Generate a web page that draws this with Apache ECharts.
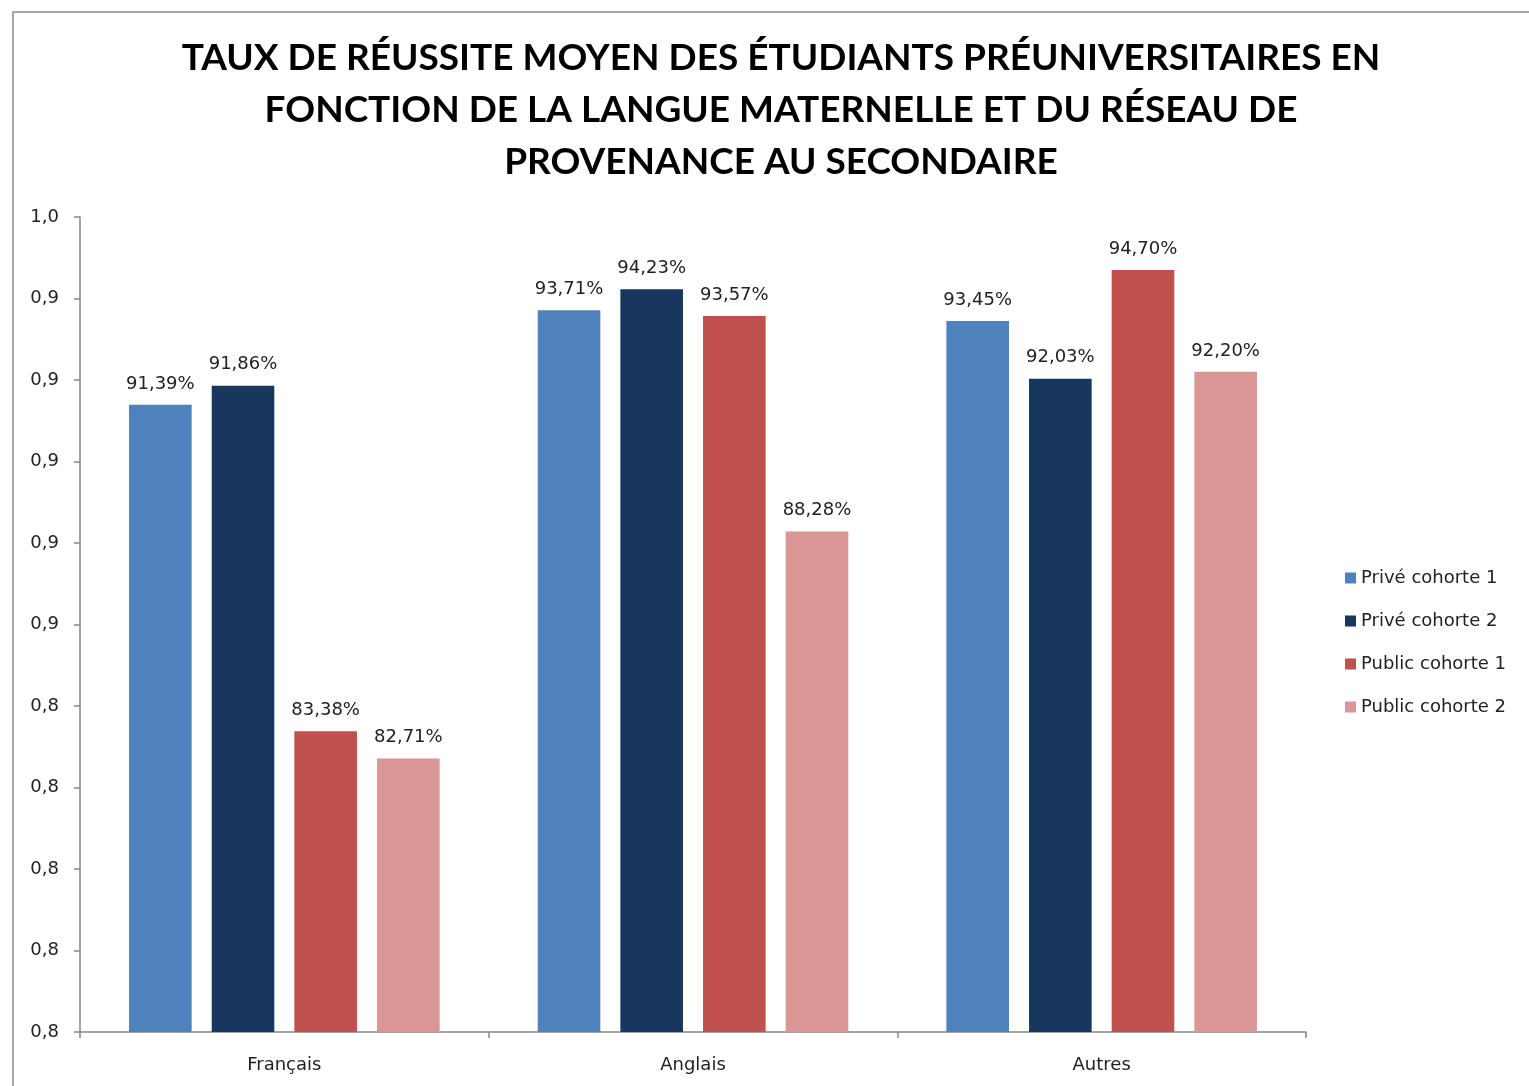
<!DOCTYPE html>
<html>
<head>
<meta charset="utf-8">
<script src="https://cdn.jsdelivr.net/npm/echarts@6/dist/echarts.min.js"></script>
<style>
  html, body { margin: 0; padding: 0; background: #fff; }
  #main { width: 1529px; height: 1086px; }
</style>
</head>
<body>
<div id="main"></div>
<script>
// data
var categories = ['Français', 'Anglais', 'Autres'];
var seriesNames = ['Privé cohorte 1', 'Privé cohorte 2', 'Public cohorte 1', 'Public cohorte 2'];
var priveC1 = [0.9139, 0.9371, 0.9345];
var priveC2 = [0.9186, 0.9423, 0.9203];
var publicC1 = [0.8338, 0.9357, 0.9470];
var publicC2 = [0.8271, 0.8828, 0.9220];
var colors = ['#4F81BD', '#17375E', '#C0504D', '#D99694'];

var titleText = 'TAUX DE RÉUSSITE MOYEN DES ÉTUDIANTS PRÉUNIVERSITAIRES EN\nFONCTION DE LA LANGUE MATERNELLE ET DU RÉSEAU DE\nPROVENANCE AU SECONDAIRE';

var myChart = echarts.init(document.getElementById('main'));

function pct(p) {
    return (p.value * 100).toFixed(2).replace('.', ',') + '%';
}

var allValues = [priveC1, priveC2, publicC1, publicC2];
var series = [];
for (var i = 0; i < seriesNames.length; i++) {
    series.push({
        name: seriesNames[i],
        type: 'bar',
        data: allValues[i],
        barGap: '32%',
        barCategoryGap: '24%',
        itemStyle: { color: colors[i] },
        label: {
            show: true,
            position: 'top',
            distance: 12,
            formatter: pct,
            color: '#222',
            fontFamily: 'DejaVu Sans',
            fontSize: 18
        }
    });
}

var option = {
    animation: false,
    backgroundColor: '#fff',
    title: {
        text: titleText,
        left: 776,
        top: 27,
        textAlign: 'center',
        textStyle: {
            fontFamily: 'Lato',
            fontWeight: 'bold',
            fontSize: 37,
            lineHeight: 52,
            color: '#000'
        }
    },
    legend: {
        orient: 'vertical',
        left: 1340,
        top: 564,
        itemWidth: 11,
        itemHeight: 11,
        itemGap: 25,
        icon: 'rect',
        data: seriesNames,
        textStyle: { fontFamily: 'DejaVu Sans', fontSize: 18, color: '#222' }
    },
    grid: { left: 80, right: 223, top: 217, bottom: 54 },
    xAxis: {
        type: 'category',
        data: categories,
        axisLine: { lineStyle: { color: '#868686', width: 1.5 } },
        axisTick: { show: true, length: 6, lineStyle: { color: '#868686', width: 1.5 } },
        axisLabel: { margin: 24, fontFamily: 'DejaVu Sans', fontSize: 18, color: '#222' }
    },
    yAxis: {
        type: 'value',
        min: 0.76,
        max: 0.96,
        interval: 0.02,
        axisLine: { show: true, lineStyle: { color: '#868686', width: 1.5 } },
        axisTick: { show: true, length: 6, lineStyle: { color: '#868686', width: 1.5 } },
        splitLine: { show: false },
        axisLabel: {
            margin: 21,
            fontFamily: 'DejaVu Sans',
            fontSize: 18,
            color: '#222',
            formatter: function (v) { return v.toFixed(1).replace('.', ','); }
        }
    },
    graphic: [{
        type: 'rect',
        shape: { x: 13, y: 12, width: 1530, height: 1090 },
        style: { fill: 'none', stroke: '#8a8a8a', lineWidth: 1.5 },
        silent: true
    }],
    series: series
};

myChart.setOption(option);
</script>
</body>
</html>
